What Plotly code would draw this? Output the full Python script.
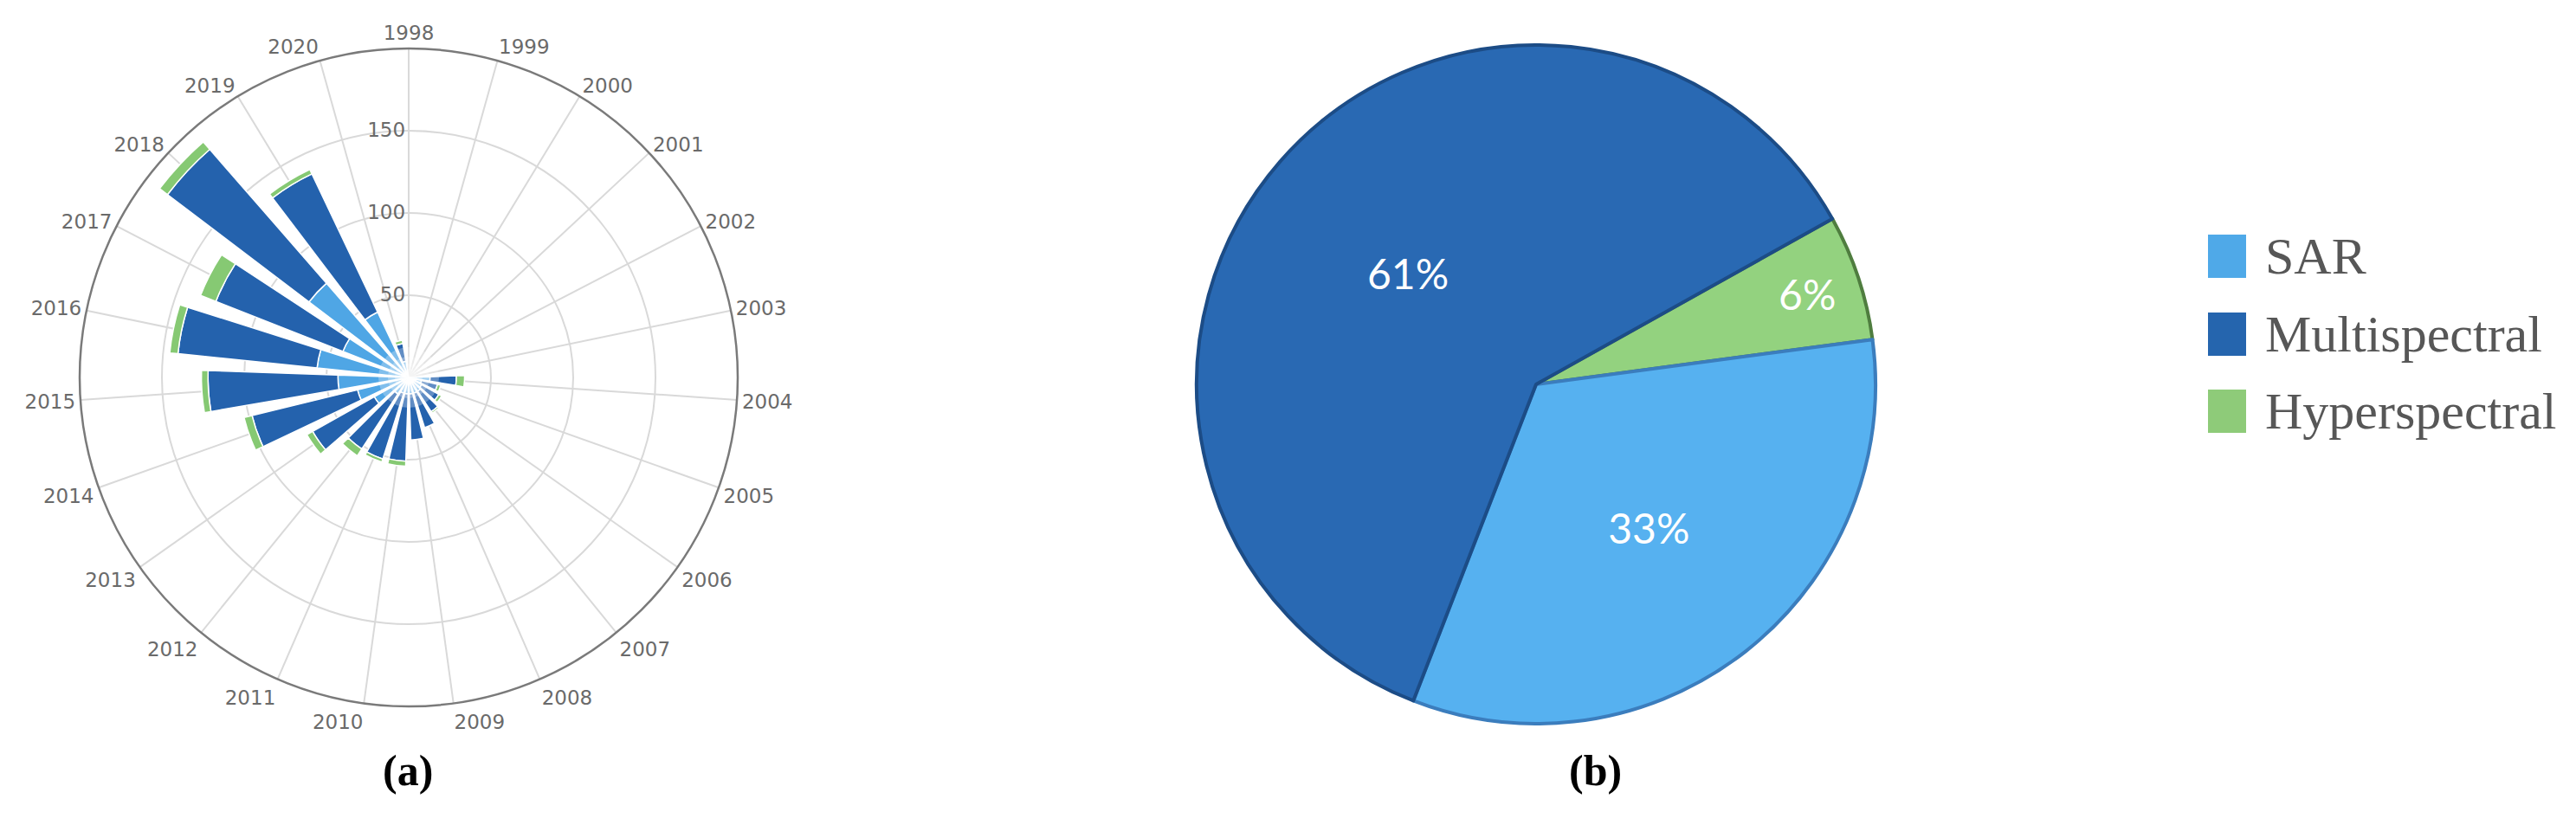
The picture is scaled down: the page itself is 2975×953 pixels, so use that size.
import plotly.graph_objects as go

# ---------------- data ----------------
years = ["1998", "1999", "2000", "2001", "2002", "2003", "2004", "2005", "2006",
         "2007", "2008", "2009", "2010", "2011", "2012", "2013", "2014", "2015",
         "2016", "2017", "2018", "2019", "2020"]
sar = [0, 0, 0, 0, 0, 0, 13, 8, 9, 10, 10, 10, 10, 10, 12, 24, 32, 43, 56, 43, 76, 44, 10]
multispectral = [0, 0, 0, 0, 0, 0, 16, 10, 12, 15, 22, 28, 41, 42, 40, 43, 66, 79, 85, 83, 108, 93, 11]
hyperspectral = [0, 0, 0, 0, 0, 0, 5, 2, 2, 1, 0, 0, 3, 2, 5, 4, 5, 4, 5, 10, 6, 3, 2]
radial_ticks = [50, 100, 150]

series_names = ["SAR", "Multispectral", "Hyperspectral"]
pie_labels = ["Hyperspectral", "SAR", "Multispectral"]
pie_values = [6, 33, 61]
panel_labels = ["(a)", "(b)"]

# ---------------- styles ----------------
bar_colors = {"SAR": "#4fa6e5", "Multispectral": "#2462ad", "Hyperspectral": "#86c973"}
pie_colors = {"SAR": "#56b1f0", "Multispectral": "#2969b3", "Hyperspectral": "#93d27f"}
pie_edge = {"SAR": "#3b7dbd", "Multispectral": "#1c4c86", "Hyperspectral": "#4f7d3f"}
legend_colors = {"SAR": "#4fa9e8", "Multispectral": "#2565ae", "Hyperspectral": "#8ecb79"}

W, H = 2975, 953

fig = go.Figure()

for name, vals in zip(series_names, [sar, multispectral, hyperspectral]):
    fig.add_trace(go.Barpolar(
        r=vals, theta=years, name=name,
        marker=dict(color=bar_colors[name], line=dict(color="white", width=1.5)),
        showlegend=False,
    ))

# soft white glow at the centre of the rose
fig.add_trace(go.Scatterpolar(
    r=[0, 0, 0, 0], theta=[years[0]] * 4, mode="markers",
    marker=dict(size=[70, 48, 32, 20], color="rgba(255,255,255,0.4)", line=dict(width=0)),
    hoverinfo="skip", showlegend=False,
))

# polar domain (circle centre ~ (464, 428) px, radius ~380 px)
cx, cy, R = 464, 428, 380
fig.update_layout(
    polar=dict(
        domain=dict(x=[(cx - R) / W, (cx + R) / W],
                    y=[(H - cy - R) / H, (H - cy + R) / H]),
        bgcolor="white",
        bargap=0.25,
        angularaxis=dict(
            type="category", categoryarray=years,
            rotation=90, direction="clockwise",
            showline=True, linecolor="#7a7a7a", linewidth=2.5,
            showgrid=True, gridcolor="#d9d9d9", gridwidth=2,
            ticks="", tickfont=dict(family="DejaVu Sans", size=23, color="#6a6a6a"),
        ),
        radialaxis=dict(
            range=[0, 200], tickvals=radial_ticks, angle=90, tickangle=90,
            side="counterclockwise", showline=False,
            showgrid=True, gridcolor="#d9d9d9", gridwidth=2,
            ticks="", tickfont=dict(family="DejaVu Sans", size=23, color="#6a6a6a"),
        ),
    )
)

# pie (centre ~ (1766, 436) px, radius ~392 px)
px_, py_, PR = 1766, 436, 392
fig.add_trace(go.Pie(
    labels=pie_labels, values=pie_values, sort=False,
    direction="clockwise", rotation=60.8,
    marker=dict(colors=[pie_colors[l] for l in pie_labels],
                line=dict(color=[pie_edge[l] for l in pie_labels], width=4)),
    textinfo="percent", textposition="inside", insidetextorientation="horizontal",
    textfont=dict(family="Lato", size=48, color="white"),
    domain=dict(x=[(px_ - PR) / W, (px_ + PR) / W],
                y=[(H - py_ - PR) / H, (H - py_ + PR) / H]),
    showlegend=False, hoverinfo="label+percent",
))

# custom legend (large swatches like the reference)
shapes = []
annotations = []
leg_x0, sw = 2542, 44
row_y = [288, 378, 467]
for name, yy in zip(series_names, row_y):
    shapes.append(dict(type="rect", xref="paper", yref="paper",
                       x0=leg_x0 / W, x1=(leg_x0 + sw) / W,
                       y0=(H - yy - sw / 2 - 3) / H, y1=(H - yy + sw / 2 + 3) / H,
                       fillcolor=legend_colors[name], line=dict(width=0)))
    annotations.append(dict(text=name, xref="paper", yref="paper",
                            x=(leg_x0 + sw + 20) / W, y=(H - yy) / H,
                            xanchor="left", yanchor="middle", showarrow=False,
                            font=dict(family="Liberation Serif", size=60, color="#575757")))

for lab, xx in zip(panel_labels, [463, 1834]):
    annotations.append(dict(text="<b>%s</b>" % lab, xref="paper", yref="paper",
                            x=xx / W, y=(H - 882) / H, xanchor="center", yanchor="middle",
                            showarrow=False,
                            font=dict(family="Liberation Serif", size=50, color="black")))

fig.update_layout(
    width=W, height=H,
    margin=dict(l=0, r=0, t=0, b=0),
    paper_bgcolor="white", plot_bgcolor="white",
    showlegend=False,
    shapes=shapes, annotations=annotations,
)

fig.write_html("out.html")
